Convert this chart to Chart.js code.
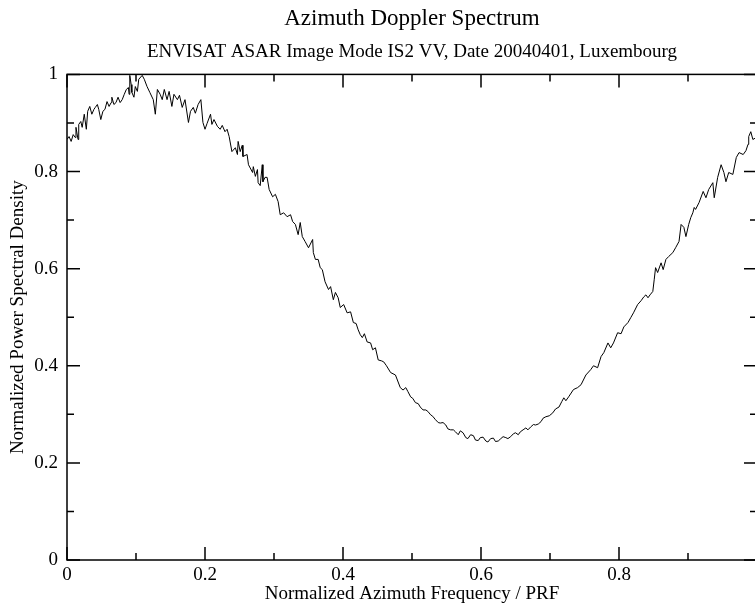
<!DOCTYPE html>
<html>
<head>
<meta charset="utf-8">
<title>Azimuth Doppler Spectrum</title>
<script src="https://cdn.jsdelivr.net/npm/chart.js@4/dist/chart.umd.min.js"></script>
<style>
  html, body { margin: 0; padding: 0; background: #fff; overflow: hidden; }
  #wrap { width: 760px; height: 606px; }
</style>
</head>
<body>
<div id="wrap"><canvas id="spectrumChart" width="760" height="606"></canvas></div>
<script>
// normalized azimuth frequency (x / PRF)
const freq = [
  0, 0.003, 0.006, 0.009, 0.012, 0.013, 0.016, 0.017, 0.020, 0.022, 0.025, 0.028, 0.030, 0.033, 0.036, 0.039,
  0.041, 0.044, 0.046, 0.049, 0.052, 0.055, 0.058, 0.061, 0.064, 0.065, 0.068, 0.071, 0.074, 0.077, 0.080, 0.083,
  0.086, 0.089, 0.090, 0.091, 0.093, 0.094, 0.097, 0.099, 0.102, 0.104, 0.109, 0.112, 0.116, 0.120, 0.125, 0.128,
  0.131, 0.135, 0.138, 0.141, 0.145, 0.148, 0.152, 0.155, 0.160, 0.163, 0.167, 0.171, 0.176, 0.179, 0.183, 0.186,
  0.190, 0.194, 0.197, 0.200, 0.203, 0.208, 0.210, 0.213, 0.218, 0.222, 0.225, 0.229, 0.232, 0.235, 0.239, 0.244,
  0.247, 0.248, 0.251, 0.254, 0.255, 0.261, 0.263, 0.269, 0.270, 0.273, 0.276, 0.277, 0.280, 0.283, 0.284, 0.287,
  0.290, 0.293, 0.298, 0.302, 0.306, 0.309, 0.314, 0.319, 0.324, 0.327, 0.331, 0.335, 0.338, 0.341, 0.345, 0.350,
  0.356, 0.357, 0.360, 0.364, 0.367, 0.370, 0.374, 0.379, 0.382, 0.386, 0.389, 0.393, 0.396, 0.401, 0.406, 0.411,
  0.415, 0.419, 0.422, 0.425, 0.428, 0.431, 0.435, 0.440, 0.443, 0.447, 0.451, 0.456, 0.459, 0.463, 0.469, 0.476,
  0.483, 0.487, 0.491, 0.494, 0.498, 0.501, 0.505, 0.509, 0.512, 0.516, 0.520, 0.523, 0.527, 0.530, 0.534, 0.538,
  0.541, 0.545, 0.549, 0.552, 0.556, 0.560, 0.563, 0.567, 0.570, 0.574, 0.578, 0.581, 0.585, 0.589, 0.592, 0.596,
  0.599, 0.603, 0.607, 0.610, 0.614, 0.618, 0.621, 0.625, 0.628, 0.632, 0.636, 0.639, 0.643, 0.647, 0.650, 0.654,
  0.657, 0.661, 0.665, 0.668, 0.672, 0.676, 0.679, 0.683, 0.687, 0.690, 0.694, 0.699, 0.704, 0.708, 0.713,
  0.717, 0.720, 0.723, 0.727, 0.734, 0.740, 0.745, 0.752, 0.759, 0.763, 0.769, 0.774, 0.778, 0.784, 0.788, 0.792,
  0.798, 0.803, 0.807, 0.813, 0.817, 0.821, 0.827, 0.832, 0.836, 0.839, 0.842, 0.845, 0.849, 0.851, 0.853, 0.856,
  0.861, 0.864, 0.868, 0.872, 0.878, 0.882, 0.887, 0.890, 0.894, 0.897, 0.901, 0.904, 0.907, 0.909, 0.911, 0.916,
  0.922, 0.926, 0.930, 0.936, 0.938, 0.943, 0.948, 0.952, 0.955, 0.959, 0.965, 0.970, 0.974, 0.980, 0.984, 0.987,
  0.988, 0.991, 0.994, 0.999
];

// normalized power spectral density
const psd = [
  0.866, 0.872, 0.862, 0.876, 0.870, 0.891, 0.866, 0.897, 0.903, 0.891, 0.918, 0.887, 0.924, 0.934, 0.918, 0.928,
  0.932, 0.938, 0.928, 0.907, 0.924, 0.928, 0.944, 0.934, 0.942, 0.953, 0.938, 0.942, 0.953, 0.942, 0.948, 0.959,
  0.969, 0.973, 0.959, 0.998, 0.979, 0.963, 0.953, 0.975, 0.965, 0.990, 0.998, 0.990, 0.975, 0.963, 0.948, 0.918,
  0.969, 0.959, 0.948, 0.969, 0.948, 0.965, 0.934, 0.959, 0.948, 0.957, 0.932, 0.948, 0.901, 0.924, 0.932, 0.920,
  0.938, 0.948, 0.901, 0.887, 0.899, 0.918, 0.897, 0.907, 0.893, 0.887, 0.895, 0.882, 0.887, 0.872, 0.841, 0.849,
  0.835, 0.862, 0.841, 0.854, 0.831, 0.835, 0.814, 0.798, 0.810, 0.790, 0.804, 0.777, 0.771, 0.814, 0.779, 0.788,
  0.788, 0.763, 0.748, 0.753, 0.738, 0.711, 0.715, 0.707, 0.711, 0.697, 0.691, 0.670, 0.695, 0.666, 0.656, 0.643,
  0.660, 0.633, 0.619, 0.619, 0.602, 0.598, 0.573, 0.557, 0.563, 0.536, 0.551, 0.540, 0.520, 0.526, 0.509, 0.511,
  0.489, 0.487, 0.474, 0.464, 0.458, 0.466, 0.449, 0.447, 0.433, 0.437, 0.412, 0.410, 0.408, 0.400, 0.386, 0.381,
  0.355, 0.350, 0.355, 0.347, 0.336, 0.333, 0.324, 0.322, 0.315, 0.309, 0.309, 0.306, 0.299, 0.296, 0.289, 0.283,
  0.282, 0.283, 0.278, 0.270, 0.268, 0.268, 0.264, 0.258, 0.266, 0.262, 0.252, 0.250, 0.258, 0.256, 0.247, 0.246,
  0.252, 0.253, 0.245, 0.243, 0.250, 0.251, 0.244, 0.245, 0.249, 0.254, 0.252, 0.250, 0.254, 0.260, 0.262, 0.258,
  0.264, 0.268, 0.272, 0.268, 0.274, 0.279, 0.278, 0.280, 0.285, 0.292, 0.295, 0.297, 0.303, 0.311, 0.315,
  0.326, 0.334, 0.328, 0.336, 0.351, 0.355, 0.361, 0.381, 0.392, 0.400, 0.396, 0.419, 0.427, 0.447, 0.437, 0.447,
  0.468, 0.466, 0.480, 0.489, 0.499, 0.509, 0.526, 0.534, 0.542, 0.546, 0.540, 0.546, 0.553, 0.577, 0.602, 0.592,
  0.612, 0.598, 0.619, 0.625, 0.633, 0.643, 0.656, 0.691, 0.685, 0.666, 0.691, 0.705, 0.715, 0.726, 0.722, 0.736,
  0.759, 0.746, 0.763, 0.777, 0.746, 0.788, 0.814, 0.798, 0.779, 0.798, 0.794, 0.829, 0.839, 0.835, 0.843, 0.856,
  0.872, 0.882, 0.866, 0.870
];

// tick positions
const majorTicks = [0, 0.2, 0.4, 0.6, 0.8, 1];
const minorTicks = [0.1, 0.3, 0.5, 0.7, 0.9];
const xLabels = ['0', '0.2', '0.4', '0.6', '0.8'];
const yLabels = ['0', '0.2', '0.4', '0.6', '0.8', '1'];

const serif = '"Liberation Serif", "Times New Roman", serif';

// box frame with inward ticks on all four sides
const frameTicks = {
  id: 'frameTicks',
  afterDatasetsDraw(chart) {
    const { ctx, chartArea: a, scales: { x, y } } = chart;
    ctx.save();
    ctx.strokeStyle = '#000';
    ctx.lineWidth = 1.5;
    ctx.strokeRect(a.left, a.top, a.right - a.left, a.bottom - a.top);
    ctx.beginPath();
    const mark = (v, len) => {
      const px = x.getPixelForValue(v);
      ctx.moveTo(px, a.bottom); ctx.lineTo(px, a.bottom - len);
      ctx.moveTo(px, a.top); ctx.lineTo(px, a.top + len);
      const py = y.getPixelForValue(v);
      ctx.moveTo(a.left, py); ctx.lineTo(a.left + len, py);
      ctx.moveTo(a.right, py); ctx.lineTo(a.right - len, py);
    };
    majorTicks.forEach(v => mark(v, 13));
    minorTicks.forEach(v => mark(v, 7));
    ctx.stroke();
    ctx.restore();
  }
};

const points = freq.map((f, i) => ({ x: f, y: psd[i] }));

new Chart(document.getElementById('spectrumChart').getContext('2d'), {
  type: 'line',
  data: {
    datasets: [{
      data: points,
      borderColor: '#000',
      borderWidth: 1,
      pointRadius: 0,
      tension: 0,
      fill: false
    }]
  },
  options: {
    responsive: false,
    animation: false,
    devicePixelRatio: 1,
    layout: { padding: { top: 0, right: 3, bottom: 0, left: 0 } },
    plugins: {
      legend: { display: false },
      tooltip: { enabled: false },
      title: {
        display: true,
        text: 'Azimuth Doppler Spectrum',
        fullSize: false,
        color: '#000',
        font: { family: serif, size: 23, weight: 'normal' },
        padding: { top: 5, bottom: 0 }
      },
      subtitle: {
        display: true,
        text: 'ENVISAT ASAR Image Mode IS2 VV, Date 20040401, Luxembourg',
        fullSize: false,
        color: '#000',
        font: { family: serif, size: 19 },
        padding: { top: 8, bottom: 11 }
      }
    },
    scales: {
      x: {
        type: 'linear',
        min: 0,
        max: 1,
        afterFit(scale) { scale.height = 46; },
        afterBuildTicks(scale) {
          scale.ticks = xLabels.map(l => ({ value: parseFloat(l) }));
        },
        grid: { display: false, drawTicks: false },
        border: { display: false },
        ticks: {
          color: '#000',
          padding: 4,
          maxRotation: 0,
          font: { family: serif, size: 19 },
          callback: (v) => xLabels[Math.round(v * 5)]
        },
        title: {
          display: true,
          text: 'Normalized Azimuth Frequency / PRF',
          color: '#000',
          font: { family: serif, size: 19 },
          padding: { top: 0, bottom: 1 }
        }
      },
      y: {
        type: 'linear',
        min: 0,
        max: 1,
        afterFit(scale) { scale.width = 67; },
        afterBuildTicks(scale) {
          scale.ticks = yLabels.map(l => ({ value: parseFloat(l) }));
        },
        grid: { display: false, drawTicks: false },
        border: { display: false },
        ticks: {
          color: '#000',
          padding: 9,
          font: { family: serif, size: 19 },
          callback: (v) => yLabels[Math.round(v * 5)]
        },
        title: {
          display: true,
          text: 'Normalized Power Spectral Density',
          color: '#000',
          font: { family: serif, size: 19 },
          padding: { top: 7, bottom: 0 }
        }
      }
    }
  },
  plugins: [frameTicks]
});
</script>
</body>
</html>
